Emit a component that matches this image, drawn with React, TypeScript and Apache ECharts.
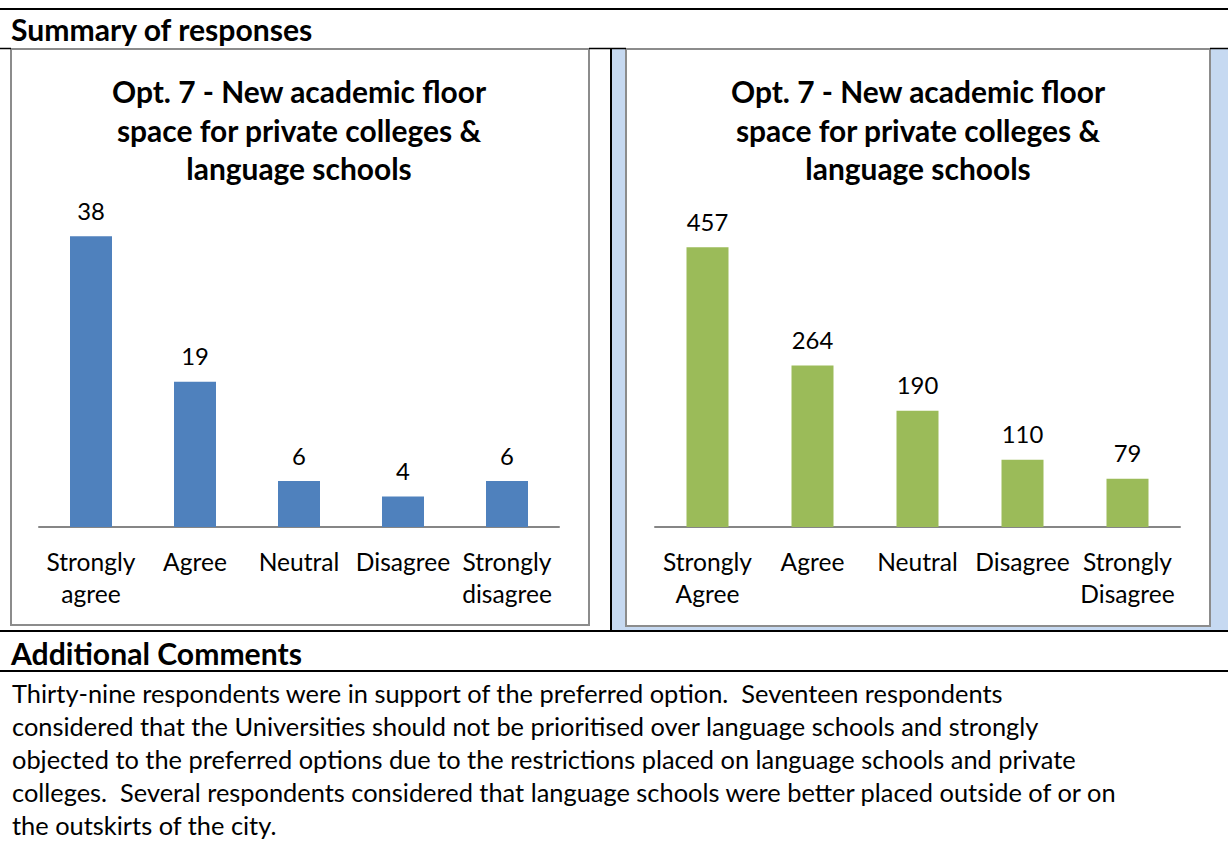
import React, { useEffect, useRef } from "react";
import * as echarts from "echarts";

// ---------- data ----------
const leftCategories = ["Strongly agree", "Agree", "Neutral", "Disagree", "Strongly disagree"];
const leftValues = [38, 19, 6, 4, 6];
const leftMax = 40;

const rightCategories = ["Strongly Agree", "Agree", "Neutral", "Disagree", "Strongly Disagree"];
const rightValues = [457, 264, 190, 110, 79];
const rightMax = 500;

const chartTitle = ["Opt. 7 - New academic floor", "space for private colleges &", "language schools"];
const sectionHeader = "Summary of responses";
const commentsHeader = "Additional Comments";
const commentLines = [
  "Thirty-nine respondents were in support of the preferred option.  Seventeen respondents",
  "considered that the Universities should not be prioritised over language schools and strongly",
  "objected to the preferred options due to the restrictions placed on language schools and private",
  "colleges.  Several respondents considered that language schools were better placed outside of or on",
  "the outskirts of the city.",
];

const FONT = "Lato";

function makeFitter() {
  const c = document.createElement("canvas").getContext("2d");
  return (text: string, weight: string, target: number) => {
    if (!c) return 22;
    c.font = `${weight} 100px ${FONT}`;
    const w = c.measureText(text).width;
    return (100 * target) / w;
  };
}

export default function App() {
  const ref = useRef<HTMLDivElement>(null);

  useEffect(() => {
    if (!ref.current) return;
    const fit = makeFitter();
    const headerSize = (fit(sectionHeader, "bold", 304) + fit(commentsHeader, "bold", 290)) / 2;
    const titleSize = (fit(chartTitle[0], "bold", 374) + fit(chartTitle[2], "bold", 226)) / 2;
    const paraSize =
      (fit(commentLines[0], "normal", 990) +
        fit(commentLines[1], "normal", 1032) +
        fit(commentLines[3], "normal", 1104)) /
      3;
    const labelSize = fit("Strongly", "normal", 89);
    const valueSize = fit("457", "normal", 41.5);

    const chart = echarts.init(ref.current, null, { renderer: "svg" });
    const black = "#000000";
    const boxGray = "#8c8c8c";

    const paraBaselines = [702, 735, 768, 801, 834];

    const graphic: any[] = [
      // blue background of right cell
      { type: "rect", shape: { x: 612, y: 49, width: 616, height: 582 }, style: { fill: "#c6d9f1" } },
      // chart boxes
      {
        type: "rect",
        shape: { x: 11, y: 49, width: 578, height: 576 },
        style: { fill: "#ffffff", stroke: boxGray, lineWidth: 2 },
      },
      {
        type: "rect",
        shape: { x: 626, y: 49, width: 584, height: 577 },
        style: { fill: "#ffffff", stroke: boxGray, lineWidth: 2 },
      },
      // table rules
      { type: "line", shape: { x1: 0, y1: 9, x2: 1228, y2: 9 }, style: { stroke: black, lineWidth: 2 } },
      { type: "line", shape: { x1: 0, y1: 48.5, x2: 11, y2: 48.5 }, style: { stroke: black, lineWidth: 1.5 } },
      { type: "line", shape: { x1: 589, y1: 48.5, x2: 626, y2: 48.5 }, style: { stroke: black, lineWidth: 1.5 } },
      { type: "line", shape: { x1: 1210, y1: 48.5, x2: 1228, y2: 48.5 }, style: { stroke: black, lineWidth: 1.5 } },
      { type: "line", shape: { x1: 611, y1: 48, x2: 611, y2: 631 }, style: { stroke: black, lineWidth: 2 } },
      { type: "line", shape: { x1: 0, y1: 631, x2: 1228, y2: 631 }, style: { stroke: black, lineWidth: 2 } },
      { type: "line", shape: { x1: 0, y1: 671, x2: 1228, y2: 671 }, style: { stroke: black, lineWidth: 2 } },
      // headers
      {
        type: "text",
        x: 11,
        y: 29,
        style: {
          text: sectionHeader,
          fill: black,
          font: `bold ${headerSize}px ${FONT}`,
          align: "left",
          verticalAlign: "middle",
        },
      },
      {
        type: "text",
        x: 11,
        y: 652.5,
        style: {
          text: commentsHeader,
          fill: black,
          font: `bold ${headerSize}px ${FONT}`,
          align: "left",
          verticalAlign: "middle",
        },
      },
      // chart titles
      ...[299, 918].map((cx) => ({
        type: "text",
        x: cx,
        y: 129.5,
        style: {
          text: chartTitle.join("\n"),
          fill: black,
          font: `bold ${titleSize}px ${FONT}`,
          lineHeight: 38.5,
          align: "center",
          verticalAlign: "middle",
        },
      })),
      // comment paragraph
      ...commentLines.map((line, i) => ({
        type: "text",
        x: 12,
        y: paraBaselines[i] - 0.36 * paraSize,
        style: {
          text: line,
          fill: black,
          font: `${paraSize}px ${FONT}`,
          align: "left",
          verticalAlign: "middle",
        },
      })),
    ];

    const axisLabel = {
      color: black,
      fontFamily: FONT,
      fontSize: labelSize,
      lineHeight: 32,
      margin: 18,
      interval: 0,
      formatter: (v: string) => v.replace("Strongly ", "Strongly\n"),
    };

    const barLabel = {
      show: true,
      position: "top",
      distance: 14,
      color: black,
      fontFamily: FONT,
      fontSize: valueSize,
    };

    chart.setOption({
      animation: false,
      backgroundColor: "#ffffff",
      textStyle: { fontFamily: FONT },
      graphic,
      grid: [
        { left: 39, top: 221, width: 520, height: 306 },
        { left: 655, top: 221, width: 525, height: 306 },
      ],
      xAxis: [
        {
          type: "category",
          gridIndex: 0,
          data: leftCategories,
          axisLine: { lineStyle: { color: "#868686", width: 2 } },
          axisTick: { show: false },
          axisLabel,
        },
        {
          type: "category",
          gridIndex: 1,
          data: rightCategories,
          axisLine: { lineStyle: { color: "#868686", width: 2 } },
          axisTick: { show: false },
          axisLabel,
        },
      ],
      yAxis: [
        { type: "value", gridIndex: 0, min: 0, max: leftMax, show: false, splitLine: { show: false } },
        { type: "value", gridIndex: 1, min: 0, max: rightMax, show: false, splitLine: { show: false } },
      ],
      series: [
        {
          type: "bar",
          xAxisIndex: 0,
          yAxisIndex: 0,
          data: leftValues,
          barWidth: 42,
          itemStyle: { color: "#4f81bd" },
          label: barLabel,
        },
        {
          type: "bar",
          xAxisIndex: 1,
          yAxisIndex: 1,
          data: rightValues,
          barWidth: 42,
          itemStyle: { color: "#9bbb59" },
          label: barLabel,
        },
      ],
    });

    return () => {
      chart.dispose();
    };
  }, []);

  return (
    <div
      ref={ref}
      style={{ position: "absolute", left: 0, top: 0, width: 1228, height: 847, background: "#ffffff" }}
    />
  );
}
